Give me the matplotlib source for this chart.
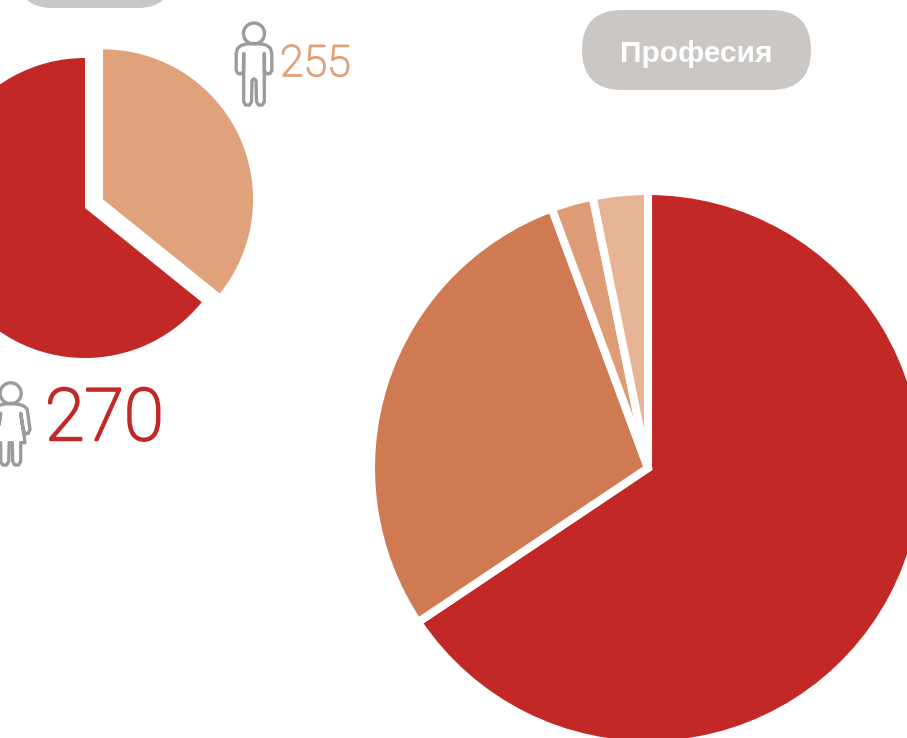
import matplotlib
matplotlib.use("Agg")
import matplotlib.pyplot as plt
import matplotlib.patheffects as pe
from matplotlib.patches import Circle, FancyBboxPatch

# Reference size in pixels, the axes below is laid out in these units
W, H = 907, 738
DPI = 100

# Small pie: share of each slice
gender_counts = ["270", "255"]
gender_shares = [64.2, 35.8]
gender_colors = ["#C22826", "#E0A27A"]

# Big pie: shares, clockwise from the top
job_shares = [65.6, 28.75, 2.45, 3.2]
job_colors = ["#C22826", "#D07A53", "#DD9C75", "#E6B394"]

pill_label = "Професия"
pill_color = "#CBC7C4"
icon_color = "#9B9B9B"


# Flip y so positions can be given in image pixels
def py(y):
    return H - y


fig = plt.figure(figsize=(W / DPI, H / DPI), dpi=DPI)
ax = fig.add_axes([0, 0, 1, 1])

# Big pie, white wedge edges make the gaps between slices
ax.pie(job_shares, colors=job_colors, startangle=90, counterclock=False,
       center=(648, py(468)), radius=277,
       wedgeprops={"edgecolor": "white", "linewidth": 5.8})

# Small pie, the peach slice is pulled out (explode is in axes units here)
ax.pie(gender_shares[::-1], colors=gender_colors[::-1], startangle=90,
       counterclock=False, center=(85, py(208)), radius=150,
       explode=[20, 0])

ax.set_xlim(0, W)
ax.set_ylim(0, H)
ax.set_aspect("auto")
ax.axis("off")


def add_pill(x0, y0, x1, y1, rad):
    ax.add_patch(FancyBboxPatch((x0 + rad, py(y1) + rad),
                                x1 - x0 - 2 * rad, y1 - y0 - 2 * rad,
                                boxstyle=f"round,pad={rad},rounding_size={rad}",
                                fc=pill_color, ec="none"))


# The round boxstyle uses quadratic corners, so the radius has to be generous
add_pill(582, 10, 811, 90, 40)
add_pill(18, -60, 172, 8, 34)
ax.text(696.5, py(54), pill_label, color="white", fontsize=21.5,
        fontweight="bold", family="Liberation Sans", ha="center", va="center")

# Light digits with a thin round stroke to get the rounded look of the original
ax.text(45, py(440), gender_counts[0], color=gender_colors[0], fontsize=52,
        family="Roboto", fontweight="light", ha="left", va="baseline",
        path_effects=[pe.withStroke(linewidth=1.8, foreground=gender_colors[0])])
ax.text(280, py(76), gender_counts[1], color=gender_colors[1], fontsize=31,
        family="Roboto", fontweight="light", ha="left", va="baseline",
        path_effects=[pe.withStroke(linewidth=1.2, foreground=gender_colors[1])])


def stroke(xs, ys, cx, cy):
    # Draw a side of an icon and its mirror image around the centre line
    for sign in (-1, 1):
        ax.plot([cx + sign * x for x in xs], [py(cy + y) for y in ys],
                color=icon_color, lw=2.4, solid_capstyle="round",
                solid_joinstyle="round")


def add_man(cx, cy):
    ax.add_patch(Circle((cx, py(cy)), 10.5, fc="none", ec=icon_color, lw=2.4))
    xs = [0, 8, 13, 16.5, 17.8, 17.8, 16, 13.5, 10.5, 10.3, 10.3, 10.3, 8.5, 4.5, 2.5, 2, 0]
    ys = [10, 10.5, 12, 15, 20, 37, 40, 40.5, 38, 20, 38, 68, 71.5, 71.5, 68, 47, 45.5]
    stroke(xs, ys, cx, cy)


def add_woman(cx, cy):
    ax.add_patch(Circle((cx, py(cy)), 10.5, fc="none", ec=icon_color, lw=2.4))
    xs = [0, 8, 13, 16.5, 19.3, 17.5, 14.5, 12.5, 10, 14.3, 10, 10, 8, 4, 2, 1.5, 0]
    ys = [10, 11, 12.5, 16, 36, 40, 40.5, 36, 20, 49.4, 49.4, 68, 71.7, 71.7, 68, 49.4, 49.4]
    stroke(xs, ys, cx, cy)


add_man(254, 33.5)
add_woman(10.7, 393.3)

fig.savefig("out.png", dpi=DPI, facecolor="white")
